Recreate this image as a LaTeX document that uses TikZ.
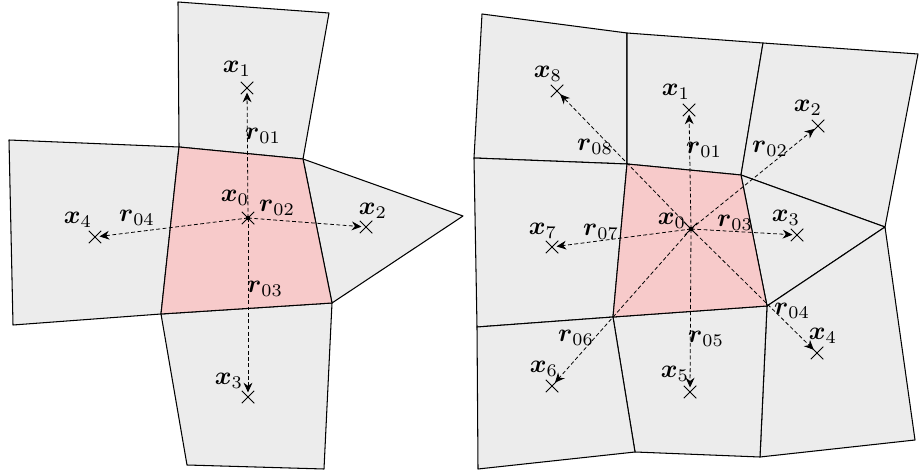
\documentclass[tikz,border=0pt]{standalone}
\usepackage{amsmath}
\usepackage{graphicx}
\usetikzlibrary{arrows.meta,shapes.misc}
\definecolor{cellgray}{RGB}{236,236,236}
\definecolor{cellpink}{RGB}{247,202,202}
\newcommand\vlab[2]{\scalebox{1.45}{$\boldsymbol{#1}_{#2}$}}
\begin{document}
\begin{tikzpicture}[x=0.02cm,y=-0.02cm,
  cell/.style={draw=black,line width=0.6pt,fill=cellgray,line join=round},
  centercell/.style={cell,fill=cellpink},
  marker/.style={cross out,draw=black,line width=0.55pt,minimum size=0.25cm,inner sep=0pt,outer sep=0pt},
  vec/.style={line width=0.45pt,dash pattern=on 2.2pt off 1.4pt,
    -{Stealth[length=5.5pt,width=5pt,inset=1.8pt]},shorten >=2.6pt},
  lab/.style={inner sep=0pt},
  dot/.style={circle,fill=black,inner sep=0pt,minimum size=2.6pt}]
\useasboundingbox (0,0) rectangle (920,473);
% ---------- left figure: cells ----------
\path[cell] (178,2) -- (329,13) -- (303,159) -- (179,147) -- cycle;
\path[cell] (9,140) -- (179,147) -- (161,314) -- (13,325) -- cycle;
\path[cell] (303,159) -- (463,216) -- (332,303) -- cycle;
\path[cell] (161,314) -- (332,303) -- (324,469) -- (187,465) -- cycle;
\path[centercell] (179,147) -- (303,159) -- (332,303) -- (161,314) -- cycle;
% markers
\node[marker] (L0) at (248,218) {};
\node[marker] (L1) at (247,88) {};
\node[marker] (L2) at (366,227) {};
\node[marker] (L3) at (248,397) {};
\node[marker] (L4) at (95,237) {};
\node[dot] (L0d) at (L0.center) {};
% vectors
\draw[vec] (L0.center) -- (L1.center);
\draw[vec] (L0.center) -- (L2.center);
\draw[vec] (L0.center) -- (L3.center);
\draw[vec] (L0.center) -- (L4.center);
% labels
\node[lab] (lx0) at (235,198) {\vlab{x}{0}};
\node[lab] (lx1) at (237,69) {\vlab{x}{1}};
\node[lab] (lx2) at (373,211) {\vlab{x}{2}};
\node[lab] (lx3) at (229,381) {\vlab{x}{3}};
\node[lab] (lx4) at (78,220) {\vlab{x}{4}};
\node[lab] (lr01) at (263,136) {\vlab{r}{01}};
\node[lab] (lr02) at (277,208) {\vlab{r}{02}};
\node[lab] (lr03) at (265,289) {\vlab{r}{03}};
\node[lab] (lr04) at (137,218) {\vlab{r}{04}};
% ---------- right figure: cells ----------
\path[cell] (482,14) -- (627,33) -- (627,164) -- (474,158) -- cycle;
\path[cell] (627,33) -- (763,43) -- (741,175) -- (627,164) -- cycle;
\path[cell] (763,43) -- (918,54) -- (885,227) -- (741,175) -- cycle;
\path[cell] (474,158) -- (627,164) -- (613,317) -- (477,327) -- cycle;
\path[cell] (741,175) -- (885,227) -- (767,306) -- cycle;
\path[cell] (767,306) -- (885,227) -- (915,440) -- (760,457) -- cycle;
\path[cell] (613,317) -- (767,306) -- (760,457) -- (635,452) -- cycle;
\path[cell] (477,327) -- (613,317) -- (635,452) -- (478,469) -- cycle;
\path[centercell] (627,164) -- (741,175) -- (767,306) -- (613,317) -- cycle;
% markers
\node[marker] (R0) at (691,229) {};
\node[marker] (R1) at (689,110) {};
\node[marker] (R2) at (818,126) {};
\node[marker] (R3) at (797,235) {};
\node[marker] (R4) at (817,353) {};
\node[marker] (R5) at (690,392) {};
\node[marker] (R6) at (552,386) {};
\node[marker] (R7) at (552,247) {};
\node[marker] (R8) at (557,91) {};
\node[dot] (R0d) at (R0.center) {};
% vectors
\draw[vec] (R0.center) -- (R1.center);
\draw[vec] (R0.center) -- (R2.center);
\draw[vec] (R0.center) -- (R3.center);
\draw[vec] (R0.center) -- (R4.center);
\draw[vec] (R0.center) -- (R5.center);
\draw[vec] (R0.center) -- (R6.center);
\draw[vec] (R0.center) -- (R7.center);
\draw[vec] (R0.center) -- (R8.center);
% labels
\node[lab] (rx0) at (672,221) {\vlab{x}{0}};
\node[lab] (rx1) at (676,92) {\vlab{x}{1}};
\node[lab] (rx2) at (808,108) {\vlab{x}{2}};
\node[lab] (rx3) at (786,218) {\vlab{x}{3}};
\node[lab] (rx4) at (823,336) {\vlab{x}{4}};
\node[lab] (rx5) at (675,374) {\vlab{x}{5}};
\node[lab] (rx6) at (544,369) {\vlab{x}{6}};
\node[lab] (rx7) at (543,231) {\vlab{x}{7}};
\node[lab] (rx8) at (548,74) {\vlab{x}{8}};
\node[lab] (rr01) at (704,150) {\vlab{r}{01}};
\node[lab] (rr02) at (770,149) {\vlab{r}{02}};
\node[lab] (rr03) at (735,223) {\vlab{r}{03}};
\node[lab] (rr04) at (792,311) {\vlab{r}{04}};
\node[lab] (rr05) at (706,339) {\vlab{r}{05}};
\node[lab] (rr06) at (576,338) {\vlab{r}{06}};
\node[lab] (rr07) at (601,232) {\vlab{r}{07}};
\node[lab] (rr08) at (595,147) {\vlab{r}{08}};
\end{tikzpicture}
\end{document}
